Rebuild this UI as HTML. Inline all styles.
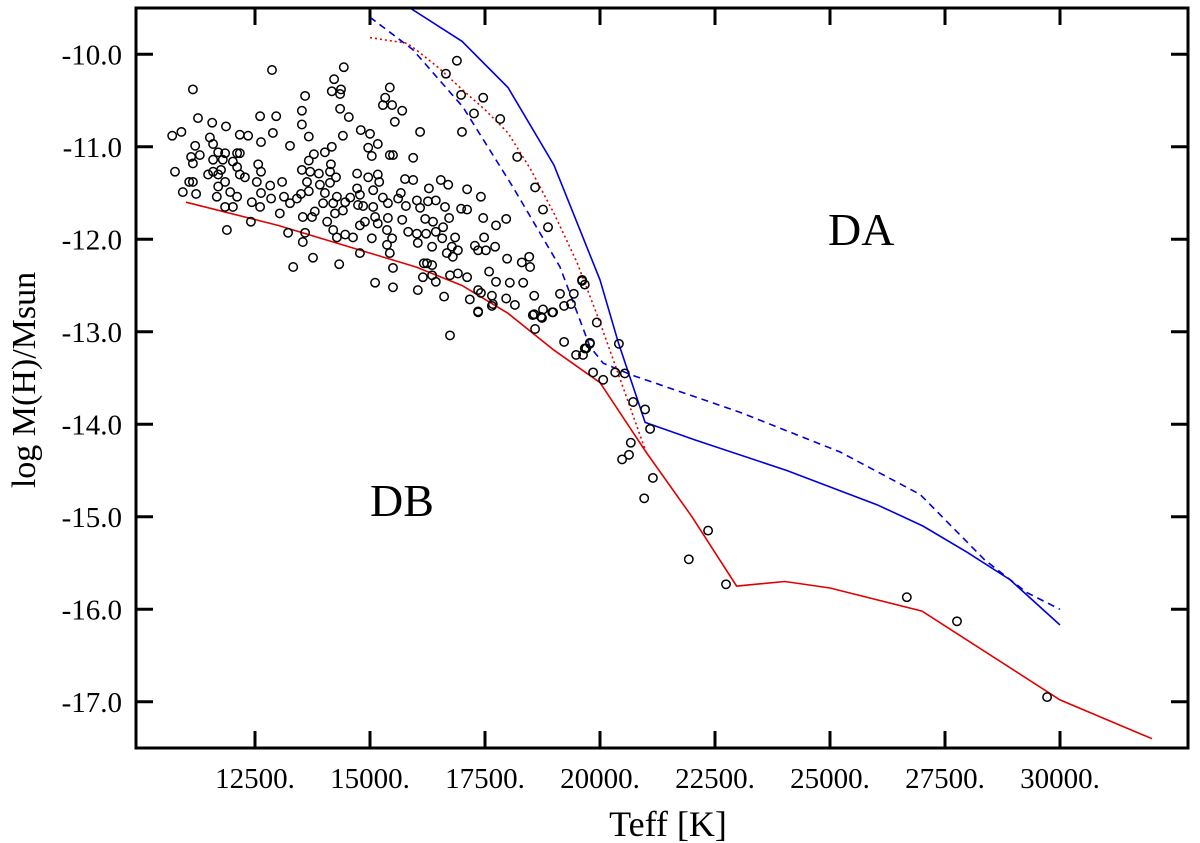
<!DOCTYPE html>
<html><head><meta charset="utf-8"><style>
html,body{margin:0;padding:0;background:#fff;}
svg{display:block;font-family:"Liberation Serif",serif;}
</style></head><body>
<svg id="chart" width="1200" height="843" viewBox="0 0 1200 843" xmlns="http://www.w3.org/2000/svg">
<g id="marks"></g>
<g id="axes"></g>
<text x="828" y="245" font-size="46">DA</text>
<text x="370" y="516" font-size="46">DB</text>
<text x="668" y="836" font-size="36" text-anchor="middle">Teff [K]</text>
<text transform="translate(35,380) rotate(-90)" font-size="34" text-anchor="middle">log M(H)/Msun</text>
</svg>
<script>
const xTicks = [12500, 15000, 17500, 20000, 22500, 25000, 27500, 30000];
const xTickLabels = ["12500.", "15000.", "17500.", "20000.", "22500.", "25000.", "27500.", "30000."];
const yTicks = [-10, -11, -12, -13, -14, -15, -16, -17];
const yTickLabels = ["-10.0", "-11.0", "-12.0", "-13.0", "-14.0", "-15.0", "-16.0", "-17.0"];

const redSolidT = [11000,13000,15000,16000,17000,18000,19000,20000,21000,22000,22970,24020,25000,27000,30000,32000];
const redSolidM = [-11.6,-11.85,-12.15,-12.3,-12.5,-12.8,-13.2,-13.55,-14.3,-15.0,-15.75,-15.7,-15.77,-16.02,-16.98,-17.4];
const blueSolidT = [15870,17000,18000,19000,20000,20400,20980,22070,24060,26020,27020,27970,28910,30000];
const blueSolidM = [-9.5,-9.86,-10.36,-11.2,-12.44,-13.12,-13.98,-14.17,-14.5,-14.87,-15.1,-15.38,-15.68,-16.17];
const blueDashT = [15000,15930,17020,18100,19130,19780,20070,20700,23040,25220,26960,28370,29280,30000];
const blueDashM = [-9.6,-9.95,-10.57,-11.43,-12.3,-13.16,-13.34,-13.47,-13.87,-14.3,-14.76,-15.47,-15.82,-16.0];
const redDotT = [15000,15800,16000,16500,17000,17500,18000,18500,19000,19500,20000,20500,21000];
const redDotM = [-9.82,-9.88,-9.95,-10.15,-10.38,-10.6,-10.85,-11.25,-11.72,-12.25,-12.9,-13.6,-14.3];

const starT = [10700,10900,11150,11260,11570,11870,10760,10930,11220,11070,11150,11200,11110,11300,11150,11520,11590,11700,11850,11590,11800,12110,12170,12020,12110,11480,11590,11760,11700,11850,11700,11670,11960,12110,11850,12020,12170,12280,11890,12170,12350,12610,12960,12870,12630,12890,12570,12630,12540,12630,12430,12610,12850,12830,13090,13040,12410,13260,13130,13260,13220,13330,13520,13520,13590,13670,13780,13670,13700,13520,13630,13670,13500,13410,13540,13740,13800,13590,13540,13760,13890,14020,14170,14150,14130,14130,14260,13910,14020,13980,14070,14200,14280,14240,14200,14280,14330,14430,14220,14170,14370,14350,14350,14540,14410,14800,15000,14960,15170,15040,14720,14960,15170,15200,15070,14720,14780,14570,14460,14410,14740,14850,15070,15110,14890,14780,14630,14460,15040,14780,15280,15390,15390,15170,15370,15480,15370,15430,15500,15110,15500,15430,15330,15280,15480,15700,15540,15430,15500,15940,15670,15610,15760,15940,15780,15700,15830,16090,16020,16090,16200,16020,16220,16280,16260,16430,16370,16540,16700,16630,16720,16590,16570,16430,16350,16040,16040,16170,16240,16350,16150,16350,16430,16610,16740,16670,16780,16800,16910,16850,16740,16910,17110,17110,16980,17110,17410,17460,17280,17350,17520,17480,17740,17720,17960,17980,17590,17350,17410,17170,17350,17650,17670,17740,17960,18040,18150,18330,18300,18460,18480,18570,18590,18570,18720,18760,18980,19130,19220,19370,19430,19220,19610,19670,19930,19780,19670,20410,17830,17460,17260,16980,16890,16650,17000,18200,18590,18760,18870,19850,20070,20330,20540,20720,20980,21090,20670,20630,20480,21150,20960,22350,21930,22740,19480,19630,19700,19780,19610,18540,18740,18960,17350,17650,26670,27760,29720];
const starM = [-10.88,-10.84,-10.38,-10.69,-10.74,-10.78,-11.27,-11.49,-11.51,-11.38,-11.38,-10.99,-11.11,-11.09,-11.18,-10.9,-10.97,-11.06,-11.07,-11.14,-11.14,-11.07,-11.07,-11.16,-11.22,-11.3,-11.27,-11.25,-11.3,-11.38,-11.43,-11.54,-11.49,-11.54,-11.65,-11.65,-11.3,-11.33,-11.9,-10.87,-10.88,-10.67,-10.67,-10.17,-10.95,-10.85,-11.19,-11.27,-11.38,-11.5,-11.6,-11.65,-11.56,-11.42,-11.38,-11.72,-11.81,-10.99,-11.54,-11.61,-11.93,-12.3,-10.61,-10.76,-10.45,-10.89,-11.08,-11.15,-11.27,-11.25,-11.38,-11.48,-11.51,-11.56,-11.76,-11.76,-11.7,-11.93,-12.03,-12.2,-11.29,-11.06,-11.0,-11.19,-11.27,-11.39,-11.33,-11.41,-11.5,-11.61,-11.81,-11.61,-11.54,-11.72,-11.9,-11.98,-12.27,-10.14,-10.27,-10.4,-10.38,-10.43,-10.59,-10.68,-10.88,-10.82,-10.86,-11.01,-10.97,-11.1,-11.29,-11.33,-11.3,-11.38,-11.47,-11.45,-11.52,-11.55,-11.6,-11.69,-11.63,-11.64,-11.65,-11.76,-11.81,-11.85,-11.98,-11.95,-11.99,-12.15,-11.55,-11.61,-11.77,-11.83,-11.9,-11.99,-12.06,-12.15,-12.31,-12.47,-12.52,-10.36,-10.47,-10.55,-10.55,-10.61,-10.73,-11.09,-11.09,-11.12,-11.5,-11.56,-11.35,-11.36,-11.64,-11.79,-11.92,-10.84,-11.58,-11.66,-11.78,-11.94,-11.94,-11.45,-11.59,-11.58,-11.81,-11.36,-11.41,-11.65,-11.77,-11.87,-11.99,-11.92,-12.08,-12.04,-12.55,-12.26,-12.26,-12.28,-12.41,-12.39,-12.46,-12.62,-13.04,-12.15,-12.08,-12.19,-12.12,-11.98,-12.39,-12.37,-12.41,-11.46,-11.67,-11.68,-11.54,-11.77,-12.07,-12.12,-12.12,-11.98,-11.85,-12.08,-11.78,-12.21,-12.35,-12.55,-12.58,-12.65,-12.79,-12.61,-12.7,-12.46,-12.64,-12.47,-12.71,-12.47,-12.25,-12.19,-12.3,-12.61,-12.97,-12.81,-12.84,-12.76,-12.79,-12.59,-12.72,-12.7,-12.59,-13.11,-12.45,-12.49,-12.9,-13.12,-13.18,-13.13,-10.7,-10.47,-10.64,-10.44,-10.07,-10.21,-10.84,-11.11,-11.44,-11.68,-11.87,-13.44,-13.52,-13.44,-13.45,-13.76,-13.84,-14.05,-14.2,-14.33,-14.38,-14.58,-14.8,-15.15,-15.46,-15.73,-13.25,-13.25,-13.18,-13.13,-12.44,-12.82,-12.85,-12.79,-12.78,-12.72,-15.87,-16.13,-16.95];

const L = 136, R = 1188, T = 8, B = 748;
function xs(t){ return 600 + (t - 20000) * 0.046; }
function ys(v){ return 8 + (-9.5 - v) * 92.5; }
const NS = "http://www.w3.org/2000/svg";
const marks = document.getElementById('marks');
const axes = document.getElementById('axes');

const cp = document.createElementNS(NS, 'clipPath');
cp.setAttribute('id', 'clip');
const cr = document.createElementNS(NS, 'rect');
cr.setAttribute('x', L); cr.setAttribute('y', T); cr.setAttribute('width', R - L); cr.setAttribute('height', B - T);
cp.appendChild(cr);
document.getElementById('chart').appendChild(cp);
marks.setAttribute('clip-path', 'url(#clip)');

function line(tArr, mArr, color, dash, name){
  const p = document.createElementNS(NS, 'polyline');
  p.setAttribute('points', tArr.map((t,i)=>xs(t).toFixed(1)+','+ys(mArr[i]).toFixed(1)).join(' '));
  p.setAttribute('fill', 'none');
  p.setAttribute('stroke', color);
  p.setAttribute('stroke-width', '1.6');
  if (dash) p.setAttribute('stroke-dasharray', dash);
  
  
  marks.appendChild(p);
}
line(redSolidT, redSolidM, '#e00000', null, 'db-boundary-line');
line(blueSolidT, blueSolidM, '#0000dd', null, 'da-boundary-line');
line(blueDashT, blueDashM, '#0000dd', '7,5', 'da-dashed-line');
line(redDotT, redDotM, '#e00000', '2,3', 'red-dotted-line');

for (let i = 0; i < starT.length; i++){
  const c = document.createElementNS(NS, 'circle');
  c.setAttribute('cx', xs(starT[i]).toFixed(1));
  c.setAttribute('cy', ys(starM[i]).toFixed(1));
  c.setAttribute('r', '4.2');
  c.setAttribute('fill', 'none');
  c.setAttribute('stroke', '#000');
  c.setAttribute('stroke-width', '1.5');
  
  
  marks.appendChild(c);
}

const frame = document.createElementNS(NS, 'rect');
frame.setAttribute('x', L); frame.setAttribute('y', T); frame.setAttribute('width', R - L); frame.setAttribute('height', B - T);
frame.setAttribute('fill', 'none'); frame.setAttribute('stroke', '#000'); frame.setAttribute('stroke-width', '3');


axes.appendChild(frame);

function seg(x1,y1,x2,y2,name){
  const l = document.createElementNS(NS, 'line');
  l.setAttribute('x1', x1); l.setAttribute('y1', y1); l.setAttribute('x2', x2); l.setAttribute('y2', y2);
  l.setAttribute('stroke', '#000'); l.setAttribute('stroke-width', '3');
  
  
  axes.appendChild(l);
}
function txt(x,y,s,anchor,name){
  const t = document.createElementNS(NS, 'text');
  t.setAttribute('x', x); t.setAttribute('y', y); t.setAttribute('font-size', '29');
  t.setAttribute('text-anchor', anchor);
  t.textContent = s;
  
  
  axes.appendChild(t);
}
xTicks.forEach((v,i)=>{
  const x = xs(v);
  seg(x, B, x, B-17, 'x-tick');
  seg(x, T, x, T+17, 'x-tick-top');
  txt(x, 788, xTickLabels[i], 'middle', 'x-tick-label');
});
yTicks.forEach((v,i)=>{
  const y = ys(v);
  seg(L, y, L+17, y, 'y-tick');
  seg(R, y, R-17, y, 'y-tick-right');
  txt(122, y+10, yTickLabels[i], 'end', 'y-tick-label');
});
</script>
</body></html>
